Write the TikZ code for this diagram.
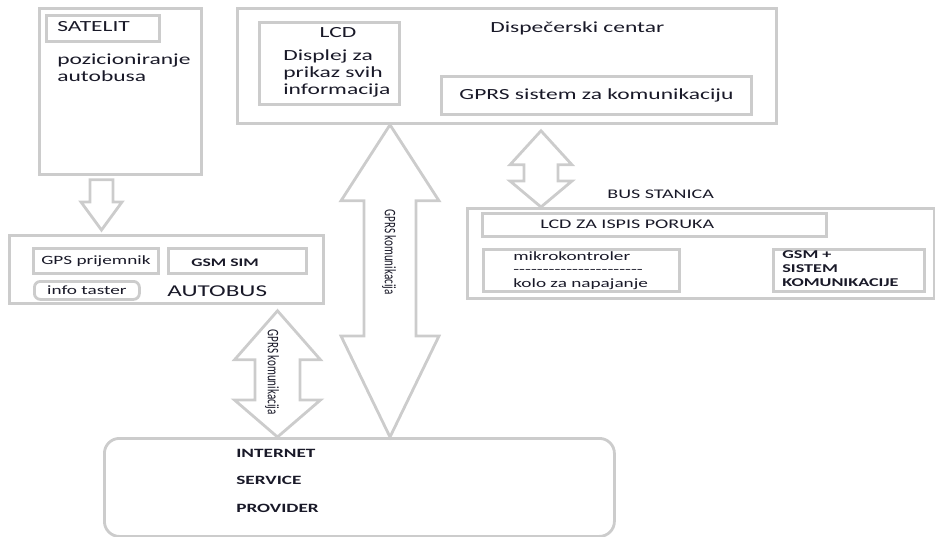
\documentclass[tikz,border=0pt]{standalone}
\usepackage{fontspec}
\setmainfont{Carlito}[FakeStretch=1.52]
\newfontfamily\narrowfont{Carlito}
\usetikzlibrary{calc}

\definecolor{framegray}{RGB}{204,204,204}
\definecolor{inkc}{RGB}{25,25,40}

% row of hyphens between the two lines in the controller box
\newcommand{\dashrow}{\foreach \i in {1,...,22}{-\kern0pt}}

% hollow two-way block arrow: top, bottom, shaft half width, head half width, upper head, lower head
\newcommand{\twoway}[6]{%
  \draw[hollow] let \p1=(#1), \p2=(#2) in
    (\x1,\y1) -- (\x1+#4,\y1-#5) -- (\x1+#3,\y1-#5) -- (\x1+#3,\y2+#6)
    -- (\x1+#4,\y2+#6) -- (\x1,\y2) -- (\x1-#4,\y2+#6) -- (\x1-#3,\y2+#6)
    -- (\x1-#3,\y1-#5) -- (\x1-#4,\y1-#5) -- cycle;}

\tikzset{
  box/.style={draw=framegray, line width=1.6pt, inner sep=0pt, anchor=north west, text=inkc},
  hollow/.style={draw=framegray, line width=1.6pt, line join=miter},
  txt/.style={anchor=base west, inner sep=0pt, text=inkc},
  bigf/.style={font=\fontsize{8.8}{9.7}\selectfont},
  smallf/.style={font=\fontsize{7.2}{7.4}\selectfont},
  capsf/.style={font=\fontsize{6.8}{7.7}\selectfont\bfseries},
  sidef/.style={font=\narrowfont\fontsize{6.3}{7}\selectfont},
}

\begin{document}
\begin{tikzpicture}
\useasboundingbox (0,0) rectangle (18.70,-10.74);

% satellite
\node[box, minimum width=3.24cm, minimum height=3.32cm] (sat) at (0.76,-0.14) {};
\node[box, minimum width=2.26cm, minimum height=0.52cm] (satname) at (0.90,-0.28) {};
\node[txt, bigf] (satlabel) at (1.14,-0.64) {SATELIT};
\node[txt, bigf, align=left] (satnote) at (1.14,-1.64) {pozicioniranje\\autobusa};

% dispatch centre
\node[box, minimum width=10.78cm, minimum height=2.30cm] (disp) at (4.72,-0.14) {};
\node[txt, bigf] (dispname) at (9.80,-0.66) {Dispečerski centar};
\node[box, minimum width=2.80cm, minimum height=1.64cm] (lcd) at (5.16,-0.42) {};
\node[txt, bigf, anchor=base] (lcdname) at (6.76,-0.76) {LCD};
\node[txt, bigf, align=left] (lcdnote) at (5.66,-1.90) {Displej za\\prikaz svih\\informacija};
\node[box, bigf, minimum width=6.20cm, minimum height=0.76cm] (gprs) at (8.80,-1.50) {GPRS sistem za komunikaciju};

% bus
\node[box, minimum width=6.28cm, minimum height=1.36cm] (autobus) at (0.16,-4.68) {};
\node[box, smallf, minimum width=2.50cm, minimum height=0.50cm] (gps) at (0.64,-4.94) {GPS prijemnik};
\node[box, minimum width=2.76cm, minimum height=0.50cm] (gsmsim) at (3.34,-4.94) {};
\node[txt, font=\fontsize{6.6}{7}\selectfont\bfseries] (gsmsimname) at (3.82,-5.32) {GSM SIM};
\node[box, rounded corners=0.12cm, smallf, minimum width=2.10cm, minimum height=0.36cm] (taster) at (0.66,-5.60) {info taster};
\node[txt, font=\fontsize{9.4}{11}\selectfont] (busname) at (3.34,-5.92) {AUTOBUS};

% bus station
\node[txt, font=\fontsize{7.5}{8}\selectfont] (stationname) at (12.14,-3.96) {BUS STANICA};
\node[box, minimum width=9.34cm, minimum height=1.80cm] (station) at (9.32,-4.14) {};
\node[box, minimum width=6.88cm, minimum height=0.46cm] (lcdmsg) at (9.62,-4.24) {};
\node[txt, font=\fontsize{7.5}{8}\selectfont] (lcdmsgname) at (10.80,-4.58) {LCD ZA ISPIS PORUKA};
\node[box, minimum width=3.92cm, minimum height=0.84cm] (mcu) at (9.64,-4.96) {};
\node[txt, smallf, align=left] (mcunote) at (10.26,-5.74) {mikrokontroler\\\dashrow\\kolo za napajanje};
\node[box, minimum width=3.02cm, minimum height=0.84cm] (gsmsys) at (15.44,-4.96) {};
\node[txt, capsf, align=left] (gsmsysnote) at (15.64,-5.72) {GSM +\\SISTEM\\KOMUNIKACIJE};

% provider
\node[box, rounded corners=0.3cm, minimum width=10.20cm, minimum height=1.96cm] (isp) at (2.06,-8.74) {};
\node[txt, font=\fontsize{7.2}{15.6}\selectfont\bfseries, align=left] (ispname) at (4.72,-10.24) {INTERNET\\SERVICE\\PROVIDER};

% block arrows
\coordinate (satx) at (2.03,0);
\coordinate (bigx) at (7.80,0);
\coordinate (smallx) at (5.55,0);
\coordinate (stationx) at (10.82,0);

\draw[hollow] let \p1=($(sat.south -| satx)+(0,-0.08)$), \p2=($(autobus.north -| satx)+(0,0.08)$) in
  (\x1-0.23cm,\y1) -- (\x1+0.23cm,\y1) -- (\x1+0.23cm,\y2+0.56cm) -- (\x1+0.41cm,\y2+0.56cm)
  -- (\x1,\y2) -- (\x1-0.41cm,\y2+0.56cm) -- (\x1-0.23cm,\y2+0.56cm) -- cycle;

\twoway{disp.south -| bigx}{isp.north -| bigx}{0.52cm}{0.98cm}{1.52cm}{2.02cm}
\twoway{$(autobus.south -| smallx)+(0,-0.12)$}{isp.north -| smallx}{0.45cm}{0.86cm}{0.98cm}{0.74cm}
\twoway{$(disp.south -| stationx)+(0,-0.12)$}{station.north -| stationx}{0.34cm}{0.62cm}{0.68cm}{0.52cm}

\node[sidef, rotate=-90, inner sep=0pt, text=inkc] (gprsbig) at (7.78,-5.04) {\scalebox{1}[1.45]{GPRS komunikacija}};
\node[sidef, rotate=-90, inner sep=0pt, text=inkc] (gprssmall) at (5.44,-7.44) {\scalebox{1}[1.45]{GPRS komunikacija}};
\end{tikzpicture}
\end{document}
